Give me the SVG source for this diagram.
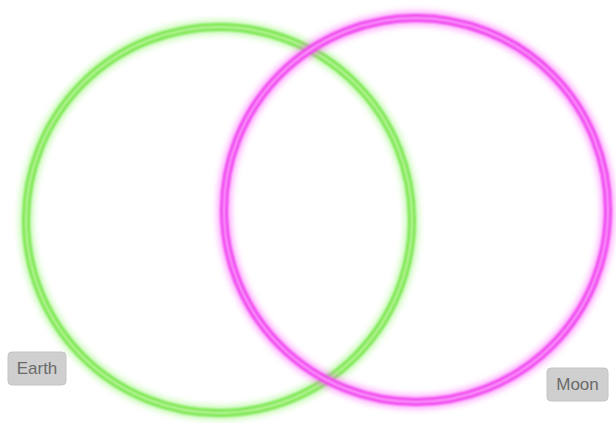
<svg xmlns="http://www.w3.org/2000/svg" width="616" height="423" viewBox="0 0 616 423">
<defs>
<style>
.glow{fill:none;stroke-width:14;opacity:0.55}
.ring{fill:none;stroke-width:8}
.core{fill:none;stroke-width:2}
.lbl{fill:#cfcfcf;stroke:#c4c4c4;stroke-width:1}
.txt{font-family:"Liberation Sans",Arial,sans-serif;font-size:17px;fill:#6a6a6a;text-anchor:middle}
</style>
<filter id="blur" x="-20%" y="-20%" width="140%" height="140%"><feGaussianBlur stdDeviation="3"/></filter>
<filter id="soft" x="-20%" y="-20%" width="140%" height="140%"><feGaussianBlur stdDeviation="0.8"/></filter>
</defs>
<rect width="616" height="423" fill="#ffffff"/>
<g id="earth">
<circle class="glow" cx="219" cy="220" r="193" stroke="#9cf57a" filter="url(#blur)"/>
<circle class="ring" cx="219" cy="220" r="193" stroke="#7ae650" filter="url(#soft)"/>
<circle class="core" cx="219" cy="220" r="193" stroke="#c8f8aa" filter="url(#soft)"/>
</g>
<g id="moon">
<circle class="glow" cx="416" cy="210" r="192" stroke="#ff66ff" filter="url(#blur)"/>
<circle class="ring" cx="416" cy="210" r="192" stroke="#ee44ee" filter="url(#soft)"/>
<circle class="core" cx="416" cy="210" r="192" stroke="#ffaaff" filter="url(#soft)"/>
</g>
<g id="earth-label">
<rect class="lbl" x="8" y="352" width="58" height="33" rx="4"/>
<text class="txt" x="37" y="374">Earth</text>
</g>
<g id="moon-label">
<rect class="lbl" x="547" y="368" width="61" height="33" rx="4"/>
<text class="txt" x="577.5" y="390">Moon</text>
</g>
</svg>
